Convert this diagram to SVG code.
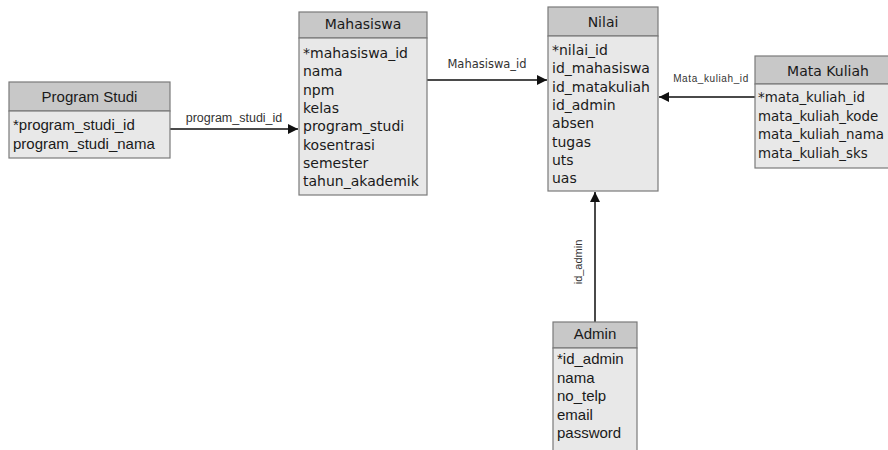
<svg xmlns="http://www.w3.org/2000/svg" width="888" height="450" viewBox="0 0 888 450">
<defs>
<style>
.hd{fill:#c8c8c8;stroke:#7a7a7a;stroke-width:1.2}
.bd{fill:#e8e8e8;stroke:#7a7a7a;stroke-width:1.2}
.t{font-family:"DejaVu Sans",Verdana,sans-serif;font-size:14px;fill:#1a1a1a}
.m{font-family:"DejaVu Sans",Verdana,sans-serif;font-size:13.4px;fill:#1a1a1a}
.a{font-family:"Liberation Sans",Arial,sans-serif;font-size:15px;fill:#1a1a1a}
.c{text-anchor:middle}
.ln{stroke:#4a4a4a;stroke-width:2;fill:none}
.lb{fill:#333}
</style>
<marker id="ah" viewBox="0 0 10 10" refX="10" refY="5" markerWidth="10" markerHeight="10" markerUnits="userSpaceOnUse" orient="auto">
<path d="M0,0 L10,5 L0,10 z" fill="#111"/>
</marker>
</defs>
<rect width="888" height="450" fill="#ffffff"/>

<g id="connectors">
<line class="ln" x1="170" y1="129" x2="298" y2="129" marker-end="url(#ah)"/>
<text class="lb" x="234" y="122" text-anchor="middle" font-family="Liberation Sans, Arial, sans-serif" font-size="12.5">program_studi_id</text>
<line class="ln" x1="427" y1="80" x2="547" y2="80" marker-end="url(#ah)"/>
<text class="lb" x="487" y="68" text-anchor="middle" font-family="DejaVu Sans, Verdana, sans-serif" font-size="11.5">Mahasiswa_id</text>
<line class="ln" x1="755" y1="97" x2="659" y2="97" marker-end="url(#ah)"/>
<text class="lb" x="711" y="82" text-anchor="middle" font-family="Liberation Sans, Arial, sans-serif" font-size="10" letter-spacing="0.6">Mata_kuliah_id</text>
<line class="ln" x1="595" y1="322" x2="595" y2="192" marker-end="url(#ah)"/>
<text class="lb" transform="translate(582,262) rotate(-90)" text-anchor="middle" font-family="Liberation Sans, Arial, sans-serif" font-size="11">id_admin</text>
</g>

<g id="program_studi">
<rect class="hd" x="9" y="82" width="161" height="29"/>
<rect class="bd" x="9" y="111" width="161" height="47"/>
<text class="a c" x="89.5" y="102">Program Studi</text>
<text class="a" x="13" y="130">*program_studi_id</text>
<text class="a" x="13" y="149">program_studi_nama</text>
</g>

<g id="mahasiswa">
<rect class="hd" x="299" y="12" width="128" height="26"/>
<rect class="bd" x="299" y="38" width="128" height="157"/>
<text class="t c" x="363" y="29">Mahasiswa</text>
<text class="t" x="303" y="58">*mahasiswa_id</text>
<text class="t" x="303" y="76.3">nama</text>
<text class="t" x="303" y="94.6">npm</text>
<text class="t" x="303" y="112.9">kelas</text>
<text class="t" x="303" y="131.2">program_studi</text>
<text class="t" x="303" y="149.5">kosentrasi</text>
<text class="t" x="303" y="167.8">semester</text>
<text class="t" x="303" y="186.1">tahun_akademik</text>
</g>

<g id="nilai">
<rect class="hd" x="548" y="7" width="110" height="29"/>
<rect class="bd" x="548" y="36" width="110" height="155"/>
<text class="t c" x="603" y="27">Nilai</text>
<text class="t" x="552" y="55">*nilai_id</text>
<text class="t" x="552" y="73.3">id_mahasiswa</text>
<text class="t" x="552" y="91.6">id_matakuliah</text>
<text class="t" x="552" y="109.9">id_admin</text>
<text class="t" x="552" y="128.2">absen</text>
<text class="t" x="552" y="146.5">tugas</text>
<text class="t" x="552" y="164.8">uts</text>
<text class="t" x="552" y="183.1">uas</text>
</g>

<g id="mata_kuliah">
<rect class="hd" x="755" y="56" width="145" height="28"/>
<rect class="bd" x="755" y="84" width="145" height="84"/>
<text class="t c" x="828" y="76">Mata Kuliah</text>
<text class="m" x="758" y="102">*mata_kuliah_id</text>
<text class="m" x="758" y="120.5">mata_kuliah_kode</text>
<text class="m" x="758" y="139">mata_kuliah_nama</text>
<text class="m" x="758" y="157.5">mata_kuliah_sks</text>
</g>

<g id="admin">
<rect class="hd" x="553" y="322" width="84" height="26"/>
<rect class="bd" x="553" y="348" width="84" height="110"/>
<text class="a c" x="595" y="339">Admin</text>
<text class="a" x="557" y="364">*id_admin</text>
<text class="a" x="557" y="382.5">nama</text>
<text class="a" x="557" y="401">no_telp</text>
<text class="a" x="557" y="419.5">email</text>
<text class="a" x="557" y="438">password</text>
</g>
</svg>
